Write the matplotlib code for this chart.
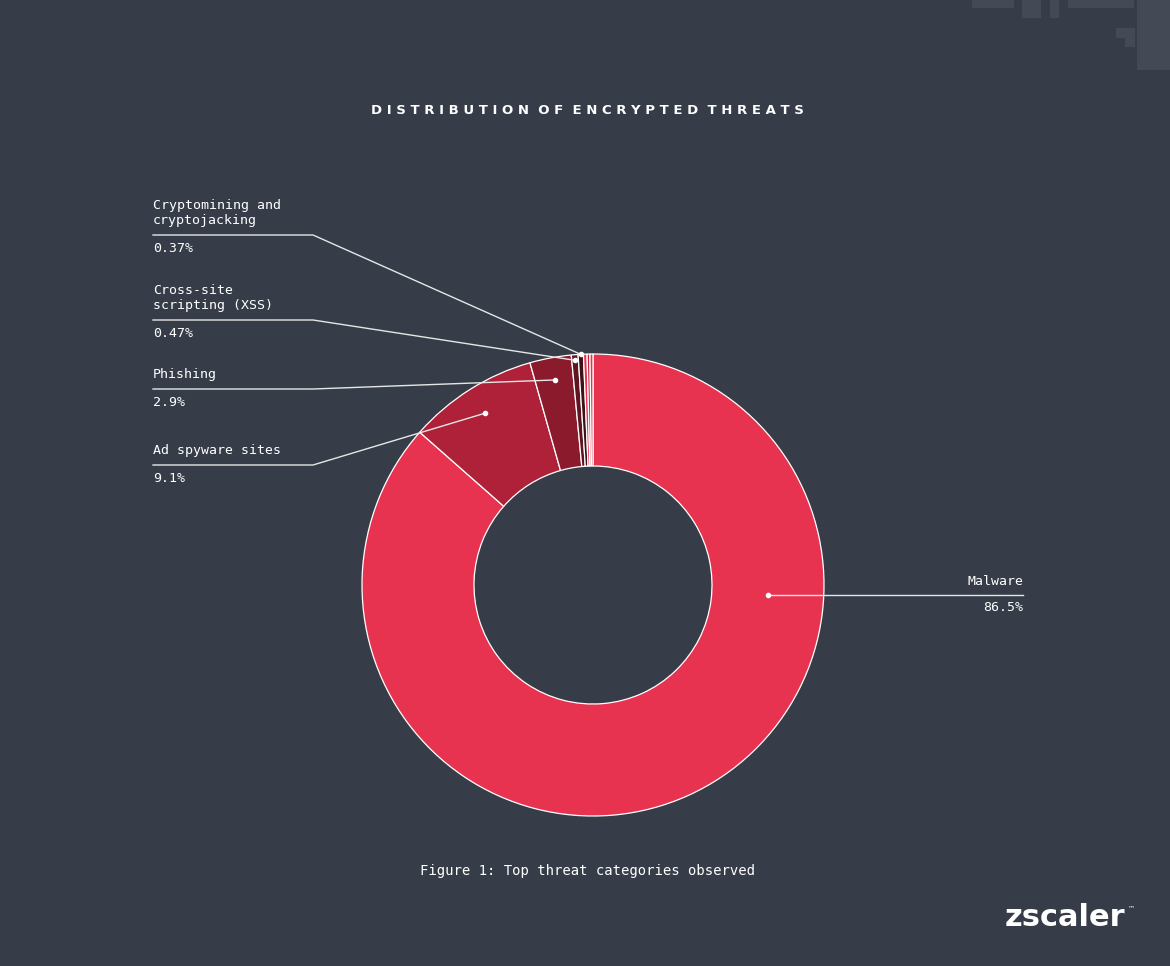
import matplotlib
matplotlib.use("Agg")
import matplotlib.pyplot as plt
import numpy as np
from matplotlib.patches import Rectangle

categories = ["Malware", "Ad spyware sites", "Phishing", "Cross-site\nscripting (XSS)", "Cryptomining and\ncryptojacking", "", "", ""]
values = [86.5, 9.1, 2.9, 0.47, 0.37, 0.25, 0.2, 0.21]
pct_labels = ["86.5%", "9.1%", "2.9%", "0.47%", "0.37%"]
colors = ["#E83350", "#AE2139", "#8B1A2D", "#5E1421", "#3E1219", "#E83350", "#C42840", "#E83350"]

BG = "#363D48"
W, H = 1170, 966
fig = plt.figure(figsize=(11.7, 9.66), dpi=100, facecolor=BG)
ax = fig.add_axes([0, 0, 1, 1])
Y = lambda y: H - y

cx, cy, R, r = 593, Y(585), 231, 119
wedges, _ = ax.pie(values, colors=colors, startangle=90, counterclock=False,
                   center=(cx, cy), radius=R, frame=True,
                   wedgeprops=dict(width=R - r, edgecolor="white", linewidth=0.9))
ax.set_xlim(0, W); ax.set_ylim(0, H); ax.set_aspect("equal"); ax.axis("off")

for (x, y, w, h) in [(972, 0, 42, 8), (1022, 0, 19, 18), (1050, 0, 9, 18), (1068, 0, 66, 8),
                     (1137, 0, 33, 70), (1116, 28, 19, 10), (1125, 28, 10, 19), (1144, 27, 10, 20)]:
    ax.add_patch(Rectangle((x, Y(y + h)), w, h, color="#434A55", lw=0, zorder=0))

def anchor(i, frac, ang=None):
    w = wedges[i]
    a = np.deg2rad((w.theta1 + w.theta2) / 2 if ang is None else ang)
    rad = r + (R - r) * frac
    return cx + rad * np.cos(a), cy + rad * np.sin(a)

lc = "#E6E6E6"
mono = "DejaVu Sans Mono"
ax_, ay_ = anchor(0, 0.5, ang=-3.4)
ax.plot([ax_, 1023], [ay_, ay_], color=lc, lw=1)
ax.plot(ax_, ay_, "o", color="white", ms=3)
ax.text(1023, ay_ + 7, categories[0], color="white", fontsize=9.5, family=mono, ha="right", va="bottom")
ax.text(1023, ay_ - 6, pct_labels[0], color="white", fontsize=9.5, family=mono, ha="right", va="top")

left_y = [465, 389, 320, 235]
fracs = [0.75, 0.8, 0.95, 1.0]
for k, i in enumerate([1, 2, 3, 4]):
    ly = Y(left_y[k])
    px, py = anchor(i, fracs[k])
    ax.plot([153, 313, px], [ly, ly, py], color=lc, lw=1)
    ax.plot(px, py, "o", color="white", ms=3)
    ax.text(153, ly + 8, categories[i], color="white", fontsize=9.5, family=mono,
            ha="left", va="bottom", linespacing=1.25)
    ax.text(153, ly - 7, pct_labels[i], color="white", fontsize=9.5, family=mono, ha="left", va="top")

ax.text(587, Y(110), "D I S T R I B U T I O N  O F  E N C R Y P T E D  T H R E A T S",
        color="white", fontsize=9.5, weight="bold", ha="center", va="center")
ax.text(587, Y(871), "Figure 1: Top threat categories observed", color="white", fontsize=10,
        family=mono, ha="center", va="center")
ax.text(1125, Y(918), "zscaler", color="white", fontsize=22, weight="bold", ha="right", va="center")
ax.text(1128, Y(908), "™", color="white", fontsize=5, ha="left", va="center")
fig.savefig("out.png", dpi=100, facecolor=BG)
